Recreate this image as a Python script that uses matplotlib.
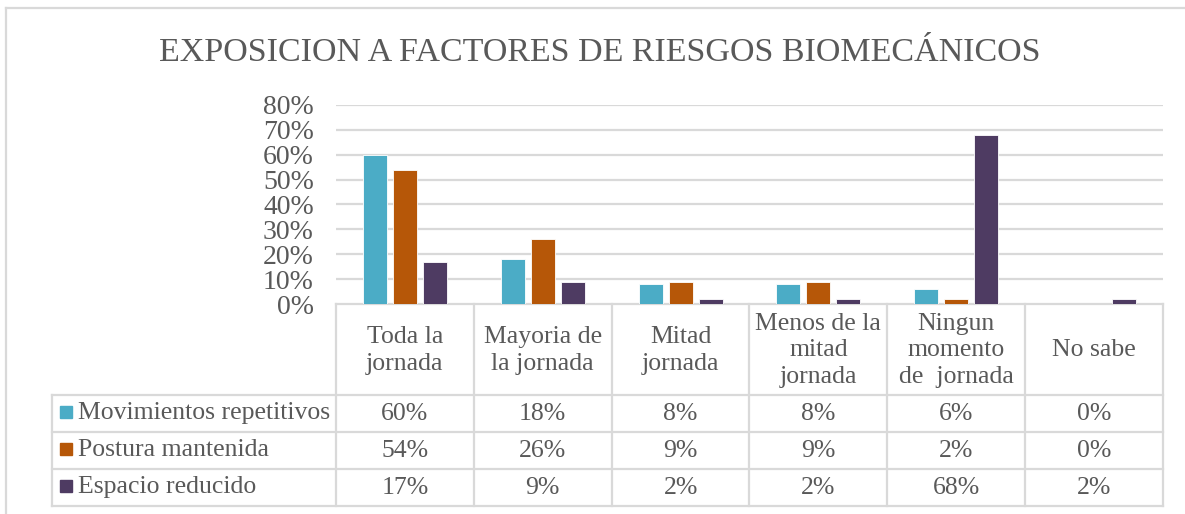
import matplotlib.pyplot as plt
from matplotlib.transforms import blended_transform_factory
import numpy as np

plt.rcParams['font.family'] = ['Liberation Serif', 'DejaVu Serif']

# data
categories = ['Toda la\njornada', 'Mayoria de\nla jornada', 'Mitad\njornada',
              'Menos de la\nmitad\njornada', 'Ningun\nmomento\nde  jornada', 'No sabe']
series = ['Movimientos repetitivos', 'Postura mantenida', 'Espacio reducido']
repetitivos = [0.60, 0.18, 0.08, 0.08, 0.06, 0.00]
mantenida = [0.54, 0.26, 0.09, 0.09, 0.02, 0.00]
reducido = [0.17, 0.09, 0.02, 0.02, 0.68, 0.02]
colors = ['#4BACC6', '#B65708', '#4E3B62']
txt = '#595959'
grid = '#D9D9D9'

W, H = 1185, 514
fig = plt.figure(figsize=(W / 100, H / 100), dpi=100)

# plot area in pixels
x0, x1, ytop, ybot = 336, 1163, 105, 304
ax = fig.add_axes([x0 / W, 1 - ybot / H, (x1 - x0) / W, (ybot - ytop) / H])

n = len(categories)
x = np.arange(n)
bw = 0.174
step = 0.218
for i, vals in enumerate([repetitivos, mantenida, reducido]):
    ax.bar(x + (i - 1) * step, vals, bw, color=colors[i], edgecolor='white',
           linewidth=0.6, zorder=3)

ax.set_xlim(-0.5, n - 0.5)
ax.set_ylim(0, 0.8)
yt = np.arange(0, 0.81, 0.1)
ax.set_yticks(yt)
ax.set_yticklabels(['%d%%' % round(v * 100) for v in yt], color=txt, fontsize=20)
ax.tick_params(axis='y', length=0, pad=16)
ax.set_xticks([])
for v in yt[1:]:
    ax.axhline(v, color=grid, lw=1.6, zorder=1)
for s in ax.spines.values():
    s.set_visible(False)

# table below the axis
tr = blended_transform_factory(ax.transData, ax.transAxes)
ph = ybot - ytop
def ya(py):
    return (ybot - py) / ph

rows_y = [304, 395, 432, 469, 506]
left = -0.5 + (52 - x0) / ((x1 - x0) / n)
lk = dict(color=grid, lw=1.6, transform=tr, clip_on=False, zorder=2)
ax.plot([-0.5, n - 0.5], [0, 0], **lk)
for py in rows_y[1:]:
    ax.plot([left, n - 0.5], [ya(py)] * 2, **lk)
for k in range(n + 1):
    ax.plot([k - 0.5] * 2, [0, ya(rows_y[-1])], **lk)
ax.plot([left] * 2, [ya(rows_y[1]), ya(rows_y[-1])], **lk)

fs = 18.5
for k, c in enumerate(categories):
    ax.text(k, ya((rows_y[0] + rows_y[1]) / 2 + 1), c, transform=tr, ha='center',
            va='center', fontsize=fs, color=txt, linespacing=1.25)

for i, (name, vals) in enumerate(zip(series, [repetitivos, mantenida, reducido])):
    yc = ya((rows_y[i + 1] + rows_y[i + 2]) / 2)
    for k, v in enumerate(vals):
        ax.text(k, yc, '%d%%' % round(v * 100), transform=tr, ha='center',
                va='center', fontsize=fs, color=txt)
    fig.patches.append(plt.Rectangle((60 / W, 1 - (rows_y[i + 1] + 23) / H), 12 / W, 12 / H,
                                     color=colors[i], transform=fig.transFigure))
    fig.text(78 / W, 1 - (rows_y[i + 1] + rows_y[i + 2]) / 2 / H, name, ha='left',
             va='center', fontsize=fs, color=txt)

# title
fig.text(600 / W, 1 - 53 / H, 'EXPOSICION A FACTORES DE RIESGOS BIOMECÁNICOS',
         ha='center', va='center', fontsize=24.5, color=txt)

# chart border
fig.add_artist(plt.Line2D([6 / W, 1], [1 - 8 / H] * 2, color=grid, lw=1.6))
fig.add_artist(plt.Line2D([6 / W] * 2, [0, 1 - 8 / H], color=grid, lw=1.6))

fig.savefig('out.png', dpi=100)
